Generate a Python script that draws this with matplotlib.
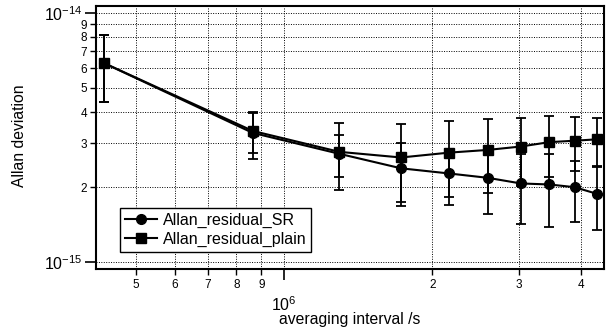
import numpy as np
import matplotlib.pyplot as plt
from matplotlib.ticker import FixedLocator, FixedFormatter

plt.rcParams['font.family'] = ['Liberation Sans', 'DejaVu Sans']
plt.rcParams['mathtext.fontset'] = 'custom'
plt.rcParams['mathtext.rm'] = 'Liberation Sans'
plt.rcParams['mathtext.it'] = 'Liberation Sans'

# averaging intervals /s
tau = [4.32e5, 8.64e5, 1.296e6, 1.728e6, 2.16e6, 2.592e6, 3.024e6, 3.456e6, 3.888e6, 4.32e6]

# Allan deviations (units of 1e-15) and their errors
adev_sr = [6.27, 3.30, 2.72, 2.38, 2.27, 2.18, 2.07, 2.05, 2.00, 1.88]
err_sr = [1.87, 0.70, 0.53, 0.63, 0.57, 0.62, 0.65, 0.66, 0.55, 0.53]
adev_plain = [6.27, 3.36, 2.77, 2.63, 2.75, 2.82, 2.91, 3.03, 3.07, 3.11]
err_plain = [1.87, 0.62, 0.83, 0.95, 0.92, 0.93, 0.88, 0.84, 0.74, 0.67]

names = ['Allan_residual_SR', 'Allan_residual_plain']

x_minor = [5e5, 6e5, 7e5, 8e5, 9e5, 2e6, 3e6, 4e6]
x_minor_lab = ['5', '6', '7', '8', '9', '2', '3', '4']
y_minor = [2e-15, 3e-15, 4e-15, 5e-15, 6e-15, 7e-15, 8e-15, 9e-15]
y_minor_lab = ['2', '3', '4', '5', '6', '7', '8', '9']

fig = plt.figure(figsize=(6.11, 3.29), dpi=100)
ax = fig.add_axes([96/611, 1-269/329, 508/611, 263/329])

s = 1e-15
c1 = ax.errorbar(tau, np.array(adev_sr)*s, yerr=np.array(err_sr)*s, color='black', lw=1.5,
                 marker='o', ms=7, elinewidth=1.3, capsize=3.5, capthick=1.3)
c2 = ax.errorbar(tau, np.array(adev_plain)*s, yerr=np.array(err_plain)*s, color='black', lw=1.5,
                 marker='s', ms=7, elinewidth=1.3, capsize=3.5, capthick=1.3)

ax.set_xscale('log')
ax.set_yscale('log')
ax.set_xlim(4.153e5, 4.462e6)
ax.set_ylim(0.94e-15, 1.064e-14)

ax.xaxis.set_major_locator(FixedLocator([1e6]))
ax.xaxis.set_major_formatter(FixedFormatter([r'$10^6$']))
ax.xaxis.set_minor_locator(FixedLocator(x_minor))
ax.xaxis.set_minor_formatter(FixedFormatter(x_minor_lab))
ax.yaxis.set_major_locator(FixedLocator([1e-15, 1e-14]))
ax.yaxis.set_major_formatter(FixedFormatter([r'$10^{-15}$', r'$10^{-14}$']))
ax.yaxis.set_minor_locator(FixedLocator(y_minor))
ax.yaxis.set_minor_formatter(FixedFormatter(y_minor_lab))

ax.tick_params(which='major', direction='out', length=8, width=1.2, labelsize=11.5)
ax.tick_params(which='minor', direction='out', length=4.5, width=1, labelsize=8.5)
ax.tick_params(axis='x', which='major', pad=11)
ax.tick_params(axis='x', which='minor', pad=3)
ax.tick_params(axis='y', which='minor', pad=2)
ax.tick_params(axis='y', which='major', pad=2)

ax.grid(True, which='both', color='black', ls=(0, (1, 1.5)), lw=0.7)
for sp in ax.spines.values():
    sp.set_linewidth(1.5)

ax.set_xlabel('averaging interval /s', fontsize=11.3)
ax.xaxis.set_label_coords(0.5, -0.162)
ax.set_ylabel('Allan deviation', fontsize=11.3)
ax.yaxis.set_label_coords(-0.136, 0.507)

# legend shows only line + marker, no error bars
leg = ax.legend([c1[0], c2[0]], names, loc='lower left', bbox_to_anchor=(0.047, 0.065),
                borderaxespad=0, fancybox=False, edgecolor='black', framealpha=1,
                fontsize=11.5, handlelength=2.0, handletextpad=0.4, borderpad=0.3,
                labelspacing=0.25)
leg.get_frame().set_linewidth(1.0)

fig.savefig('out.png', dpi=100)
